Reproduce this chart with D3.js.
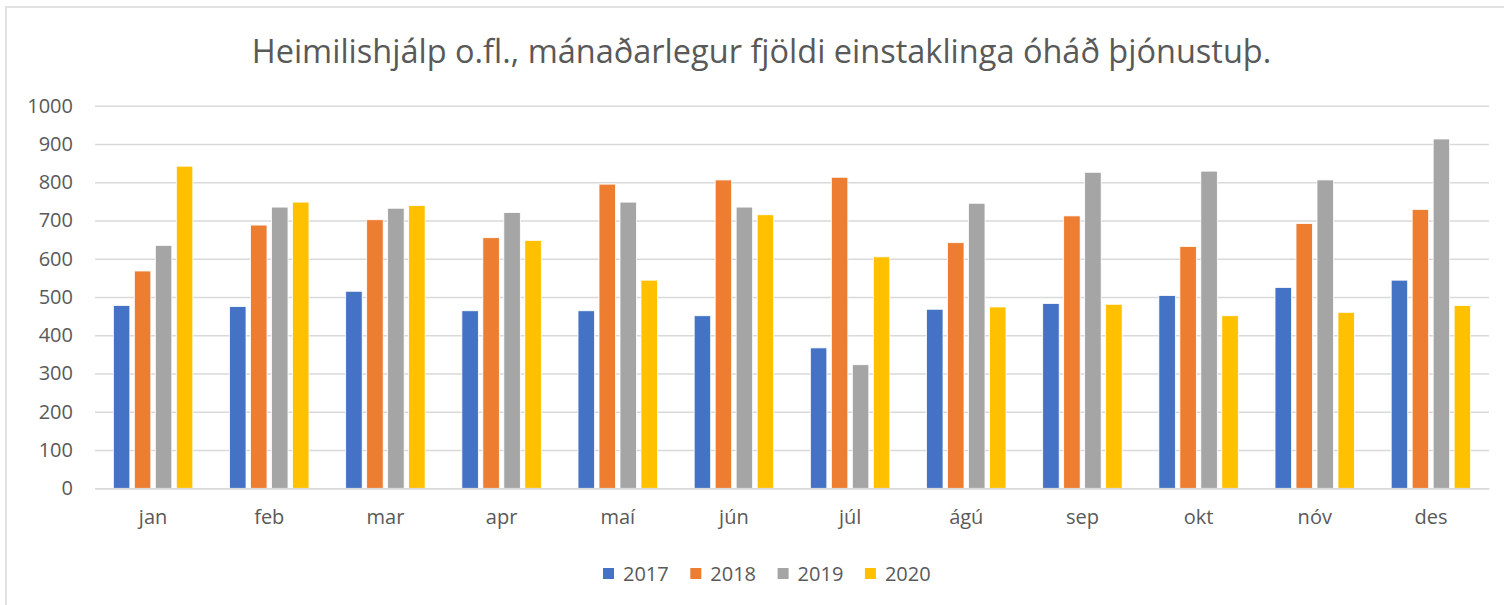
<!DOCTYPE html>
<html>
<head>
<meta charset="utf-8">
<script src="https://cdn.jsdelivr.net/npm/d3@7"></script>
<style>
  body { margin: 0; background: #fff; }
  text { font-family: "Open Sans", "Liberation Sans", sans-serif; fill: #595959; }
</style>
</head>
<body>
<div class="chart"></div>
<script>
// gögn lesin af myndinni
const manudir = ["jan", "feb", "mar", "apr", "maí", "jún", "júl", "ágú", "sep", "okt", "nóv", "des"];
const ar = ["2017", "2018", "2019", "2020"];
const v2017 = [478, 475, 515, 464, 464, 451, 367, 468, 483, 504, 525, 544];
const v2018 = [568, 688, 702, 655, 795, 806, 813, 642, 712, 632, 692, 729];
const v2019 = [635, 735, 732, 721, 748, 735, 323, 745, 826, 829, 806, 913];
const v2020 = [842, 748, 739, 648, 544, 715, 605, 474, 481, 451, 460, 478];
const yTicks = [0, 100, 200, 300, 400, 500, 600, 700, 800, 900, 1000];
const litir = ["#4472C4", "#ED7D31", "#A5A5A5", "#FFC000"];

const titill = "Heimilishjálp o.fl., mánaðarlegur fjöldi einstaklinga óháð þjónustuþ.";

const W = 1504, H = 605;
const margin = { top: 105.7, right: 15, bottom: 116.7, left: 95 };
const w = 1489 - margin.left;
const h = 488.3 - margin.top;

const svg = d3.select(".chart")
  .append("svg")
  .attr("width", W)
  .attr("height", H);

// rammi
svg.append("rect")
  .attr("x", 6).attr("y", 7)
  .attr("width", 1520).attr("height", 620)
  .attr("fill", "none")
  .attr("stroke", "#d9d9d9")
  .attr("stroke-width", 1.5);

svg.append("text")
  .attr("x", 761.5).attr("y", 63)
  .attr("text-anchor", "middle")
  .style("font-size", "32.5px")
  .text(titill);

const g = svg.append("g").attr("transform", `translate(${margin.left},${margin.top})`);

const y = d3.scaleLinear().domain([0, 1000]).range([h, 0]);
const x0 = d3.scaleBand().domain(manudir).range([0, w]).paddingInner(0.316).paddingOuter(0.158);
const x1 = d3.scaleBand().domain(ar).range([0, x0.bandwidth()]).paddingInner(0.214);
const color = d3.scaleOrdinal().domain(ar).range(litir);

// y-ás með hnitalínum
const yAxis = g.append("g")
  .call(d3.axisLeft(y).tickValues(yTicks).tickFormat(d3.format("d")).tickSize(-w).tickPadding(22));
yAxis.select(".domain").remove();
yAxis.selectAll(".tick line").attr("stroke", "#d9d9d9").attr("stroke-width", 1.5);
yAxis.selectAll(".tick text").style("font-size", "20px").attr("fill", "#595959");

const rows = manudir.map((m, i) => ({
  manudur: m,
  gildi: [v2017[i], v2018[i], v2019[i], v2020[i]].map((v, j) => ({ ar: ar[j], v: v }))
}));

g.selectAll(".hopur")
  .data(rows)
  .enter()
  .append("g")
  .attr("class", "hopur")
  .attr("transform", d => `translate(${x0(d.manudur)},0)`)
  .selectAll("rect")
  .data(d => d.gildi)
  .enter()
  .append("rect")
  .attr("x", d => x1(d.ar))
  .attr("width", x1.bandwidth())
  .attr("y", d => y(d.v))
  .attr("height", d => h - y(d.v))
  .attr("fill", d => color(d.ar))
  .attr("stroke", "#fff")
  .attr("stroke-width", 0.8);

// x-ás
const xAxis = g.append("g")
  .attr("transform", `translate(0,${h})`)
  .call(d3.axisBottom(x0).tickSize(0).tickPadding(22));
xAxis.select(".domain").attr("stroke", "#d9d9d9").attr("stroke-width", 1.5);
xAxis.selectAll(".tick text").style("font-size", "20px").attr("fill", "#595959");

// skýringar
const legend = svg.append("g").attr("transform", "translate(603,568)");
const item = legend.selectAll("g")
  .data(ar)
  .enter()
  .append("g")
  .attr("transform", (d, i) => `translate(${i * 87.3},0)`);
item.append("rect")
  .attr("width", 11).attr("height", 11)
  .attr("fill", d => color(d));
item.append("text")
  .attr("x", 20).attr("y", 12.5)
  .style("font-size", "20px")
  .text(d => d);
</script>
</body>
</html>
